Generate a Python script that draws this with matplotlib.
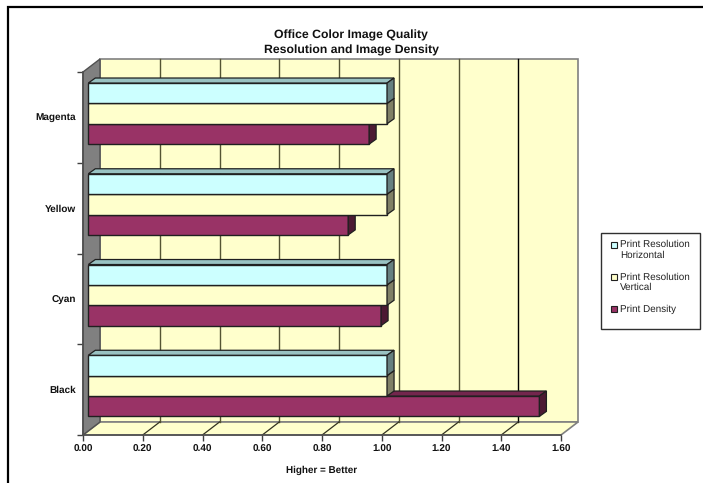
"""
Office colour image quality: 3D style horizontal bars drawn on plain 2D axes
"""
import matplotlib
matplotlib.use("Agg")
import matplotlib.pyplot as plt
from matplotlib.lines import Line2D
from matplotlib.patches import Polygon, Rectangle

# ----------------------------------------------------------------
# Data
# ----------------------------------------------------------------
categories = ["Black", "Cyan", "Yellow", "Magenta"]
resolution_h = [1.00, 1.00, 1.00, 1.00]
resolution_v = [1.00, 1.00, 1.00, 1.00]
print_density = [1.51, 0.98, 0.87, 0.94]
x_ticks = [0.0, 0.2, 0.4, 0.6, 0.8, 1.0, 1.2, 1.4, 1.6]

series_names = ["Print Resolution\nHorizontal", "Print Resolution\nVertical", "Print Density"]

# ----------------------------------------------------------------
# Parameters
# ----------------------------------------------------------------
W, H = 703, 483
LEFT, RIGHT, TOP, BOTTOM = 83, 561, 72, 435   # plot box in pixels
DEPTH_X, DEPTH_Y = 17, 13                     # wall depth in pixels
BAR_DX, BAR_DY = 7, 5                         # bar depth in pixels
BAR_SHIFT_X, BAR_SHIFT_Y = 5.3, 3.8           # bars stand part way into the box

plt.rcParams["font.family"] = ["Liberation Sans", "DejaVu Sans"]
plt.rcParams["text.hinting"] = "none"

fig = plt.figure(figsize=(W / 100, H / 100), dpi=100)
ax = fig.add_axes([LEFT / W, 1 - BOTTOM / H, (RIGHT - LEFT) / W, (BOTTOM - TOP) / H])
ax.set_xlim(0, 1.6)
ax.set_ylim(-0.5, 3.5)

# pixels to data units
ux = 1.6 / (RIGHT - LEFT)
uy = 4.0 / (BOTTOM - TOP)
dx, dy = DEPTH_X * ux, DEPTH_Y * uy
bdx, bdy = BAR_DX * ux, BAR_DY * uy
sx, sy = BAR_SHIFT_X * ux, BAR_SHIFT_Y * uy


def face(points, fc, ec="#404040", lw=0.9, z=1):
    ax.add_patch(Polygon(points, closed=True, fc=fc, ec=ec, lw=lw, zorder=z,
                         clip_on=False, joinstyle="miter"))


# --- walls and floor ---
y0, y1 = -0.5, 3.5
face([(dx, y0 + dy), (1.6 + dx, y0 + dy), (1.6 + dx, y1 + dy), (dx, y1 + dy)], "#FFFFCC", "#808080", 1.2)
face([(0, y0), (1.6, y0), (1.6 + dx, y0 + dy), (dx, y0 + dy)], "#FFFFCC", "#808080", 1.2)
face([(0, y0), (dx, y0 + dy), (dx, y1 + dy), (0, y1)], "#808080", "#505050", 1.0)

# --- grid lines on wall and floor ---
for t in x_ticks[1:-1]:
    col = "#000000" if t > 1.3 else "#555533"
    ax.plot([t + dx, t + dx], [y0 + dy, y1 + dy], color=col, lw=1.0, zorder=2, clip_on=False)
    ax.plot([t, t + dx], [y0, y0 + dy], color="#333322", lw=0.9, zorder=2, clip_on=False)

# --- bars ---
bar_h = 0.2245
colors = ["#CCFFFF", "#FFFFCC", "#993366"]
top_shade = ["#99C2C2", "#C2C299", "#73264D"]
side_shade = ["#668080", "#808066", "#4D1A33"]
series = [resolution_h, resolution_v, print_density]

for c in range(len(categories)):
    for s in [2, 1, 0]:
        val = series[s][c]
        yb = c + (1 - s) * bar_h - bar_h / 2 + sy
        yt = yb + bar_h
        z = 5 + (3 - c) * 3 + (2 - s)
        # front face through barh
        ax.barh(yb + bar_h / 2, val, height=bar_h, left=sx, color=colors[s],
                edgecolor="#202020", linewidth=1.0, zorder=z, clip_on=False)
        end = sx + val
        face([(sx, yt), (end, yt), (end + bdx, yt + bdy), (sx + bdx, yt + bdy)],
             top_shade[s], "#202020", 0.9, z)
        face([(end, yb), (end + bdx, yb + bdy), (end + bdx, yt + bdy), (end, yt)],
             side_shade[s], "#202020", 0.9, z)

# --- axes, ticks and labels ---
for spine in ax.spines.values():
    spine.set_visible(False)
ax.patch.set_visible(False)
ax.set_xticks(x_ticks)
ax.set_xticklabels([f"{t:.2f}" for t in x_ticks], fontsize=7.2, fontweight="bold", color="#111111")
ax.set_yticks([i - 0.5 for i in range(5)])
ax.set_yticklabels([])
ax.set_yticks(range(4), minor=True)
ax.set_yticklabels(categories, minor=True, fontsize=7.2, fontweight="bold", color="#111111")
ax.tick_params(axis="x", length=4.3, width=1, color="#404040", pad=2.8)
ax.tick_params(axis="y", which="major", length=4.3, width=1, color="#404040")
ax.tick_params(axis="y", which="minor", length=0, pad=5)
ax.plot([0, 1.6], [y0, y0], color="#505050", lw=1.2, zorder=3, clip_on=False)
ax.plot([0, 0], [y0, y1], color="#505050", lw=1.2, zorder=3, clip_on=False)

# --- titles ---
fig.text(351 / W, 1 - 35 / H, "Office Color Image Quality", ha="center", va="center",
         fontsize=8.8, fontweight="bold", color="#111111")
fig.text(351 / W, 1 - 50.7 / H, "Resolution and Image Density", ha="center", va="center",
         fontsize=8.8, fontweight="bold", color="#111111")
fig.text(322 / W, 1 - 470.7 / H, "Higher = Better", ha="center", va="center",
         fontsize=7.1, fontweight="bold", color="#111111")

# --- legend box ---
fig.add_artist(Rectangle((601 / W, 1 - 329 / H), 99 / W, 96 / H, transform=fig.transFigure,
                         fc="white", ec="#303030", lw=1.0))
legend_y = [245, 277.3, 309.3]
for name, col, ly in zip(series_names, colors, legend_y):
    fig.add_artist(Rectangle((611 / W, 1 - (ly + 3) / H), 6 / W, 6 / H, transform=fig.transFigure,
                             fc=col, ec="#202020", lw=0.8))
    fig.text(620 / W, 1 - (ly - 5) / H, name, ha="left", va="top", fontsize=7.1,
             color="#222222", linespacing=1.15)

# --- outer frame, only top and left edges show ---
fig.add_artist(Line2D([8 / W, 8 / W, 1], [0, 1 - 7 / H, 1 - 7 / H], transform=fig.transFigure,
                      color="black", lw=1.6, solid_joinstyle="miter"))

fig.savefig("out.png", dpi=100)
plt.close(fig)
